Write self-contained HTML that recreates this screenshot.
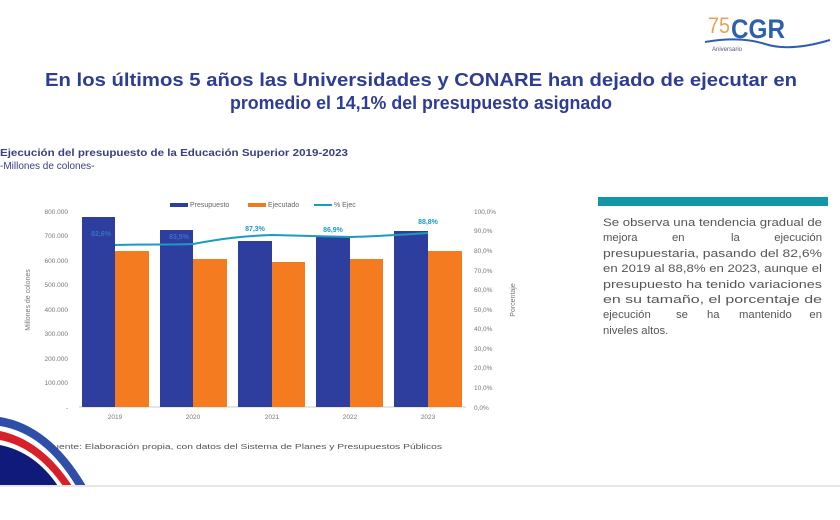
<!DOCTYPE html>
<html><head><meta charset="utf-8"><style>
html,body{margin:0;padding:0;background:#fff;}
svg{display:block;font-family:"Liberation Sans",sans-serif;}
</style></head><body>
<svg width="840" height="520" viewBox="0 0 840 520" xmlns="http://www.w3.org/2000/svg">
<rect width="840" height="520" fill="#fff"/>
<!-- logo -->
<text x="708" y="33" font-size="22" fill="#e8a25a" textLength="22" lengthAdjust="spacingAndGlyphs">75</text>
<text x="731" y="38" font-size="27" font-weight="bold" fill="#2e5fae" textLength="54" lengthAdjust="spacingAndGlyphs">CGR</text>
<path d="M705 42 Q740 36 765 44 T830 40" stroke="#2e5fae" stroke-width="2" fill="none"/>
<text x="712" y="51" font-size="6" fill="#557">Aniversario</text>
<!-- title -->
<text x="421" y="86" font-size="18" font-weight="bold" fill="#2d3c95" text-anchor="middle" textLength="752" lengthAdjust="spacingAndGlyphs">En los últimos 5 años las Universidades y CONARE han dejado de ejecutar en</text>
<text x="421" y="109" font-size="18" font-weight="bold" fill="#2d3c95" text-anchor="middle" textLength="382" lengthAdjust="spacingAndGlyphs">promedio el 14,1% del presupuesto asignado</text>
<text x="0" y="156" font-size="10" font-weight="bold" fill="#3a4080" textLength="348" lengthAdjust="spacingAndGlyphs">Ejecución del presupuesto de la Educación Superior 2019-2023</text>
<text x="0" y="169" font-size="10" fill="#3a4080">-Millones de colones-</text>
<!-- legend -->
<rect x="170" y="203" width="18" height="4" fill="#2e3e9e"/><text x="190" y="207" font-size="7" fill="#666">Presupuesto</text>
<rect x="248" y="203" width="18" height="4" fill="#f07a22"/><text x="268" y="207" font-size="7" fill="#666">Ejecutado</text>
<line x1="314" y1="205" x2="332" y2="205" stroke="#1a9bc0" stroke-width="2"/><text x="334" y="207" font-size="7" fill="#666">% Ejec</text>
<!-- left axis labels -->
<g font-size="6.5" fill="#777" text-anchor="end">
<text x="68" y="214">800.000</text><text x="68" y="238">700.000</text><text x="68" y="263">600.000</text>
<text x="68" y="287">500.000</text><text x="68" y="312">400.000</text><text x="68" y="336">300.000</text>
<text x="68" y="361">200.000</text><text x="68" y="385">100.000</text><text x="68" y="410">-</text>
</g>
<g font-size="6.5" fill="#777">
<text x="474" y="214">100,0%</text><text x="474" y="233">90,0%</text><text x="474" y="253">80,0%</text>
<text x="474" y="273">70,0%</text><text x="474" y="292">60,0%</text><text x="474" y="312">50,0%</text>
<text x="474" y="331">40,0%</text><text x="474" y="351">30,0%</text><text x="474" y="370">20,0%</text>
<text x="474" y="390">10,0%</text><text x="474" y="410">0,0%</text>
</g>
<text transform="translate(30,300) rotate(-90)" font-size="7" fill="#777" text-anchor="middle">Millones de colones</text>
<text transform="translate(515,300) rotate(-90)" font-size="7" fill="#777" text-anchor="middle">Porcentaje</text>
<!-- bars -->
<line x1="79" y1="407" x2="466" y2="407" stroke="#ccc" stroke-width="1"/>
<g fill="#2e3e9e">
<rect x="82" y="217" width="33" height="190"/><rect x="160" y="230" width="33" height="177"/>
<rect x="238" y="241" width="34" height="166"/><rect x="316" y="237" width="34" height="170"/>
<rect x="394" y="231" width="34" height="176"/>
</g>
<g fill="#f47b20">
<rect x="115" y="251" width="34" height="156"/><rect x="193" y="259" width="34" height="148"/>
<rect x="272" y="262" width="33" height="145"/><rect x="350" y="259" width="33" height="148"/>
<rect x="428" y="251" width="34" height="156"/>
</g>
<path d="M115 245 C150 244 170 245 193 244 C225 238 245 236 272 235 L350 237 C380 236 400 235 428 233" stroke="#1a9bc0" stroke-width="2" fill="none"/>
<g font-size="7" font-weight="bold" fill="#1a9bc0" text-anchor="middle">
<text x="101" y="236" fill="#3a6fc8">82,6%</text><text x="179" y="239" fill="#3a6fc8">83,5%</text>
<text x="255" y="231">87,3%</text><text x="333" y="232">86,9%</text><text x="428" y="224">88,8%</text>
</g>
<g font-size="6.5" fill="#777" text-anchor="middle">
<text x="115" y="419">2019</text><text x="193" y="419">2020</text><text x="272" y="419">2021</text>
<text x="350" y="419">2022</text><text x="428" y="419">2023</text>
</g>
<text x="47" y="449" font-size="7.5" fill="#555" textLength="395" lengthAdjust="spacingAndGlyphs">Fuente: Elaboración propia, con datos del Sistema de Planes y Presupuestos Públicos</text>
<!-- swoosh -->
<path d="M0 417 Q50 425 86 486 L76 486 Q44 433 0 426 Z" fill="#2e4ea8"/>
<path d="M0 431 Q42 440 72 486 L63 486 Q36 447 0 440 Z" fill="#d8202a"/>
<path d="M0 445 Q35 452 58 486 L0 486 Z" fill="#101a7a"/>
<line x1="0" y1="486" x2="840" y2="486" stroke="#e6e6e6" stroke-width="2"/>
<!-- right box -->
<rect x="598" y="197" width="230" height="9" fill="#1297a8"/>
<g font-size="11.3" fill="#555">
<text x="603" y="226" textLength="219" lengthAdjust="spacingAndGlyphs">Se observa una tendencia gradual de</text>
<text x="603" y="241">mejora</text><text x="672" y="241">en</text><text x="731" y="241">la</text><text x="822" y="241" text-anchor="end">ejecución</text>
<text x="603" y="257" textLength="219" lengthAdjust="spacingAndGlyphs">presupuestaria, pasando del 82,6%</text>
<text x="603" y="272" textLength="219" lengthAdjust="spacingAndGlyphs">en 2019 al 88,8% en 2023, aunque el</text>
<text x="603" y="288" textLength="219" lengthAdjust="spacingAndGlyphs">presupuesto ha tenido variaciones</text>
<text x="603" y="303" textLength="219" lengthAdjust="spacingAndGlyphs">en su tamaño, el porcentaje de</text>
<text x="603" y="318">ejecución</text><text x="676" y="318">se</text><text x="707" y="318">ha</text><text x="739" y="318">mantenido</text><text x="822" y="318" text-anchor="end">en</text>
<text x="603" y="334">niveles altos.</text>
</g>
</svg>
</body></html>
